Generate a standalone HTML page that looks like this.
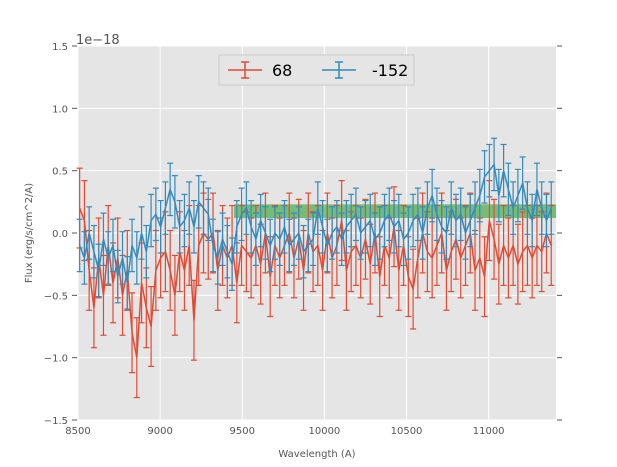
<!DOCTYPE html>
<html><head><meta charset="utf-8"><style>body{margin:0;background:#fff}svg{display:block;font-family:"DejaVu Sans","Liberation Sans",sans-serif}</style></head>
<body>
<svg id="chart" width="617" height="467" viewBox="0 0 617 467">
<rect x="78" y="46" width="478" height="374" fill="#e5e5e5"/>
<g id="grid"></g>
<g id="band"></g>
<g id="series"></g>
<g id="axes"></g>
<text x="76" y="44" font-size="13" fill="#555">1e−18</text>
<text x="317" y="457" font-size="10" fill="#555" text-anchor="middle">Wavelength (A)</text>
<text transform="translate(32,233) rotate(-90)" font-size="10" fill="#555" text-anchor="middle">Flux (erg/s/cm^2/A)</text>
<g>
<rect x="219" y="55" width="195" height="30" fill="#e5e5e5" stroke="#cccccc" stroke-width="1"/>
<g>
<line x1="228" y1="70" x2="262" y2="70" stroke="#E24A33" stroke-width="1.5"/>
<line x1="245" y1="62" x2="245" y2="78" stroke="#E24A33" stroke-width="1.5"/>
<line x1="241" y1="62" x2="249" y2="62" stroke="#E24A33" stroke-width="1.5"/>
<line x1="241" y1="78" x2="249" y2="78" stroke="#E24A33" stroke-width="1.5"/>
<text x="272" y="76" font-size="16" fill="#000">68</text>
</g>
<g>
<line x1="322" y1="70" x2="356" y2="70" stroke="#348ABD" stroke-width="1.5"/>
<line x1="339" y1="62" x2="339" y2="78" stroke="#348ABD" stroke-width="1.5"/>
<line x1="335" y1="62" x2="343" y2="62" stroke="#348ABD" stroke-width="1.5"/>
<line x1="335" y1="78" x2="343" y2="78" stroke="#348ABD" stroke-width="1.5"/>
<text x="372" y="76" font-size="16" fill="#000">-152</text>
</g>
</g>
</svg>
<script>
const xTicks=[8500,9000,9500,10000,10500,11000];
const yTicks=[-1.5,-1.0,-0.5,0.0,0.5,1.0,1.5];
const xStart=8510, xStep=29;
const redValues=[0.2,0.1,-0.3,-0.6,-0.2,-0.5,-0.1,-0.4,-0.2,-0.5,-0.3,-0.8,-1.0,-0.4,-0.6,-0.75,-0.3,-0.2,-0.15,-0.3,-0.5,-0.15,-0.3,-0.1,-0.7,-0.1,0.0,-0.05,0.0,-0.3,-0.1,-0.2,-0.1,-0.4,-0.1,-0.15,-0.2,-0.1,-0.25,0.0,-0.35,-0.1,-0.2,-0.1,0.0,-0.2,-0.05,-0.3,0.0,-0.15,-0.1,-0.3,0.0,-0.2,-0.1,0.1,-0.3,-0.15,-0.1,-0.2,-0.05,-0.25,0.0,-0.35,-0.1,-0.2,0.05,-0.3,-0.1,-0.35,-0.45,-0.2,0.0,-0.15,-0.2,-0.1,0.0,-0.3,-0.15,-0.05,-0.2,-0.1,0.0,-0.3,-0.2,-0.35,0.1,-0.05,-0.25,-0.1,-0.2,-0.1,-0.25,-0.15,-0.1,-0.2,-0.1,-0.15,0.0,-0.1];
const blueValues=[-0.1,-0.2,0.0,-0.15,-0.3,-0.05,-0.2,-0.1,-0.35,-0.2,-0.4,-0.1,-0.2,0.0,-0.15,0.1,0.15,0.05,0.2,0.35,0.25,0.05,0.1,0.2,0.05,0.25,0.2,0.15,-0.1,-0.2,-0.05,-0.15,-0.25,0.05,0.15,0.2,0.05,-0.05,0.1,0.0,-0.1,0.0,-0.05,0.05,-0.1,-0.05,0.0,-0.15,-0.1,-0.05,0.2,0.05,-0.1,0.0,0.05,-0.05,0.05,0.1,0.15,0.0,0.05,0.1,-0.05,0.0,0.1,0.15,0.05,0.1,-0.05,0.0,0.1,0.15,0.0,0.2,0.3,0.15,0.05,0.0,0.2,0.1,0.15,0.0,0.1,0.2,0.3,0.45,0.5,0.55,0.3,0.5,0.35,0.2,0.3,0.4,0.2,0.1,0.35,0.2,0.1,0.2];
const redErr=0.32, blueErr=0.21;
const bandRange=[9450,11410], bandY=[0.12,0.23];
const X0=8500,X1=11410,Y0=-1.5,Y1=1.5,L=78,R=556,T=46,B=420;
const sx=v=>L+(v-X0)/(X1-X0)*(R-L);
const sy=v=>B-(v-Y0)/(Y1-Y0)*(B-T);
const NS="http://www.w3.org/2000/svg";
function mk(tag,parent,attrs){const e=document.createElementNS(NS,tag);for(const k in attrs)e.setAttribute(k,attrs[k]);parent.appendChild(e);return e;}
const grid=document.getElementById('grid'),axes=document.getElementById('axes');
xTicks.forEach(t=>{
  const g=mk('line',grid,{x1:sx(t),x2:sx(t),y1:T,y2:B,stroke:'#fff','stroke-width':1});
  
  
  const lb=mk('text',axes,{x:sx(t),y:B+14,'font-size':10,fill:'#555','text-anchor':'middle'});
  lb.textContent=t;
  
  
});
yTicks.forEach(t=>{
  const g=mk('line',grid,{x1:L,x2:R,y1:sy(t),y2:sy(t),stroke:'#fff','stroke-width':1});
  
  
  mk('line',axes,{x1:L-6,x2:L-1,y1:sy(t),y2:sy(t),stroke:'#555'});
  mk('line',axes,{x1:R+1,x2:R+6,y1:sy(t),y2:sy(t),stroke:'#555'});
  const lb=mk('text',axes,{x:L-10,y:sy(t)+4,'font-size':10,fill:'#555','text-anchor':'end'});
  lb.textContent=t.toFixed(1).replace('-','\u2212');
  
  
});
const band=mk('rect',document.getElementById('band'),{x:sx(bandRange[0]),y:sy(bandY[1]),width:sx(bandRange[1])-sx(bandRange[0]),height:sy(bandY[0])-sy(bandY[1]),fill:'#2ca02c','fill-opacity':0.6});


const ser=document.getElementById('series');
function draw(vals,err,color,name){
  const g=mk('g',ser,{});
  
  
  vals.forEach((v,i)=>{
    const x=sx(xStart+i*xStep);
    mk('line',g,{x1:x,x2:x,y1:sy(v-err),y2:sy(v+err),stroke:color,'stroke-width':1.2});
    mk('line',g,{x1:x-3,x2:x+3,y1:sy(v-err),y2:sy(v-err),stroke:color,'stroke-width':1.2});
    mk('line',g,{x1:x-3,x2:x+3,y1:sy(v+err),y2:sy(v+err),stroke:color,'stroke-width':1.2});
  });
  const p=mk('polyline',g,{points:vals.map((v,i)=>sx(xStart+i*xStep)+','+sy(v)).join(' '),fill:'none',stroke:color,'stroke-width':1.5});
  
  
}
draw(redValues,redErr,'#E24A33','series-68');
draw(blueValues,blueErr,'#348ABD','series-minus152');
</script>
</body></html>
